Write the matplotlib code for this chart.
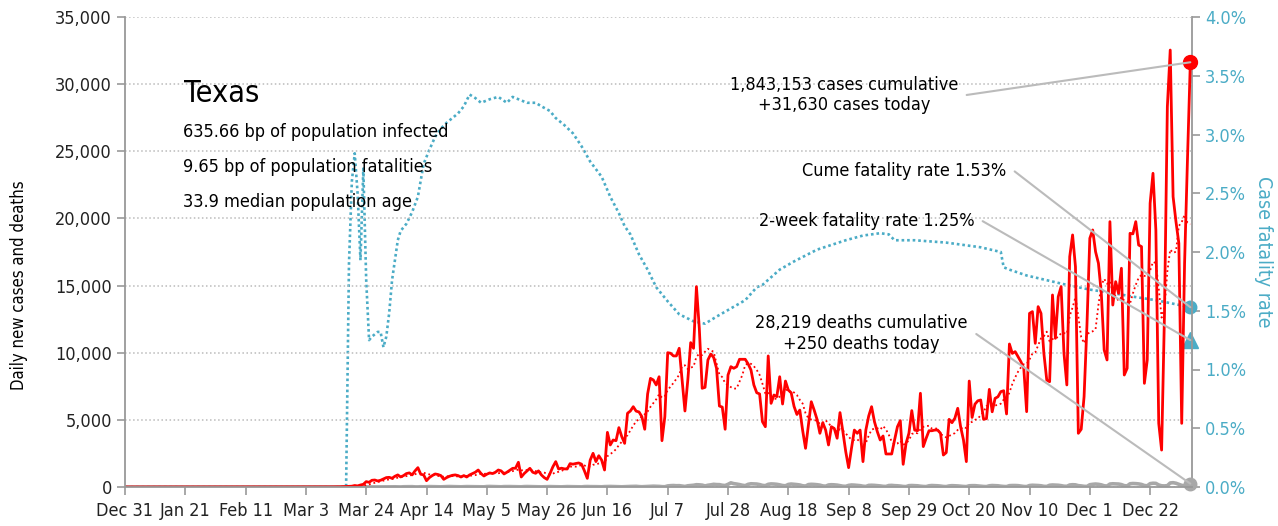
import pandas as pd
import matplotlib
matplotlib.use("Agg")
import matplotlib.pyplot as plt
import matplotlib.ticker as mticker
import matplotlib.dates as mdates

plt.rcParams['font.family'] = ['DejaVu Sans']
plt.rcParams['font.stretch'] = 'condensed'

# ---- data ----
axis_start = "2019-12-31"
first_day = "2020-03-04"

# daily new cases, Mar 4 2020 .. Jan 5 2021
cases_mar = [1, 0, 2, 3, 1, 5, 2, 3, 8, 10, 20, 15, 25, 30, 50, 60, 110, 80, 150, 200,
             400, 350, 500, 520, 450, 500, 600, 700]
cases_apr = [720, 650, 800, 900, 750, 850, 1000, 1050, 900, 1200,
             1440, 950, 900, 470, 700, 850, 970, 930, 850, 570,
             700, 800, 870, 900, 850, 745, 850, 745, 900, 1000]
cases_may = [1100, 1266, 1000, 820, 950, 1050, 1000, 1100, 1266, 1200,
             970, 1100, 1250, 1390, 1400, 1840, 745, 1000, 1200, 1390,
             1100, 1020, 1200, 900, 700, 570, 1000, 1500, 1890, 1340, 1400]
cases_jun = [1350, 1340, 1740, 1700, 1750, 1790, 1700, 1200, 645, 2000,
             2510, 1890, 2330, 2000, 1266, 4070, 3130, 3500, 3450, 4420,
             3750, 3250, 5490, 5660, 5980, 5650, 5590, 5240, 4300, 6930]
cases_jul = [8090, 7970, 7600, 8210, 3450, 5240, 10000, 9960, 9760, 9760,
             10330, 7970, 5660, 7970, 10750, 10330, 14920, 11820, 7350, 7420,
             9460, 9900, 9650, 8840, 6030, 5950, 4300, 8340, 8960, 8840, 8960]
cases_aug = [9510, 9510, 9510, 9170, 8710, 7600, 7020, 6930, 4860, 4490,
             9760, 6230, 6850, 6730, 8210, 6180, 7890, 7220, 7020, 6000,
             5400, 5730, 4200, 2880, 4600, 6350, 5730, 5040, 4000, 4790, 4240]
cases_sep = [3130, 4490, 4360, 3630, 5540, 4120, 2630, 1440, 2880, 4240,
             4000, 4240, 1890, 4240, 5290, 5980, 4860, 4120, 3500, 3800,
             2460, 2460, 2460, 3500, 4490, 4940, 1690, 3250, 4000, 5690]
cases_oct = [4240, 4190, 6980, 3010, 3630, 4190, 4190, 4240, 4240, 4000,
             2380, 2560, 5040, 4790, 5120, 5860, 4490, 3500, 1890, 7890,
             5180, 6170, 6420, 6480, 5040, 5090, 7270, 5600, 6600, 6720, 7100]
cases_nov = [7170, 5440, 10650, 9950, 10080, 9700, 9330, 8840, 5610, 12930,
             13060, 10700, 13430, 12930, 9950, 7970, 7840, 14300, 11070, 14170,
             14920, 9950, 7600, 17150, 18770, 16400, 4000, 4300, 6730, 12060]
cases_dec = [18520, 19140, 17520, 16660, 14420, 10200, 9460, 19760, 13550, 15290,
             14420, 16290, 8340, 8840, 18890, 18850, 19760, 18020, 17900, 7720,
             9460, 21130, 23360, 19140, 4740, 2750, 12930, 28320, 32540, 21620, 19760]
cases_jan = [18150, 4740, 16660, 24350, 31630]

# daily deaths, same dates
deaths_mar = [0] * 14 + [1, 2, 1, 1, 3, 2, 3, 5, 4, 6, 4, 5, 8, 10]
deaths_apr = [10, 12, 15, 9, 5, 18, 20, 22, 25, 10, 8, 20, 15, 25, 30, 28, 22, 14, 12, 25,
              30, 35, 30, 25, 18, 14, 25, 30, 28, 25]
deaths_may = [30, 25, 15, 12, 35, 40, 30, 28, 20, 15, 30, 35, 32, 28, 25, 18, 14, 30, 35, 30,
              28, 22, 16, 12, 20, 25, 30, 28, 20, 15, 12]
deaths_jun = [25, 30, 28, 25, 20, 15, 10, 30, 35, 28, 30, 25, 20, 15, 30, 35, 40, 35, 30, 20,
              15, 25, 30, 40, 45, 50, 30, 20, 30, 40]
deaths_jul = [50, 60, 55, 45, 25, 20, 80, 100, 110, 95, 100, 70, 40, 90, 110, 130, 170, 160, 140, 80,
              130, 160, 200, 180, 175, 130, 110, 200, 310, 250, 220]
deaths_aug = [180, 130, 100, 200, 240, 230, 220, 180, 120, 100, 200, 230, 220, 200, 160, 110, 90, 190, 220, 200,
              180, 150, 90, 70, 180, 200, 190, 170, 140, 80, 60]
deaths_sep = [150, 170, 160, 140, 100, 60, 50, 120, 150, 140, 120, 100, 60, 40, 120, 130, 120, 100, 80, 50,
              40, 110, 120, 100, 90, 70, 40, 30, 100, 110]
deaths_oct = [100, 90, 60, 40, 30, 90, 110, 100, 90, 70, 40, 30, 80, 100, 90, 80, 60, 40, 30, 90,
              100, 100, 80, 60, 40, 30, 90, 110, 100, 90, 60]
deaths_nov = [40, 30, 100, 110, 110, 100, 70, 40, 30, 110, 130, 120, 110, 90, 50, 40, 130, 150, 140, 130,
              100, 60, 50, 150, 170, 160, 100, 80, 50, 40]
deaths_dec = [170, 200, 220, 200, 160, 90, 70, 220, 240, 230, 220, 180, 100, 80, 240, 260, 250, 230, 190, 110,
              90, 250, 280, 270, 150, 90, 80, 100, 300, 320, 280]
deaths_jan = [200, 120, 100, 280, 250]

# case fatality rate (%)
cfr_dates = ["2019-12-31", "2020-03-16", "2020-03-17", "2020-03-18", "2020-03-19", "2020-03-20",
             "2020-03-21", "2020-03-22", "2020-03-23", "2020-03-24", "2020-03-25", "2020-03-26",
             "2020-03-27", "2020-03-28", "2020-03-29", "2020-03-30", "2020-03-31", "2020-04-01",
             "2020-04-02", "2020-04-03", "2020-04-04", "2020-04-05", "2020-04-07", "2020-04-09",
             "2020-04-11", "2020-04-13", "2020-04-15", "2020-04-17", "2020-04-19", "2020-04-21",
             "2020-04-23", "2020-04-25", "2020-04-27", "2020-04-29", "2020-05-01", "2020-05-03",
             "2020-05-06", "2020-05-09", "2020-05-12", "2020-05-14", "2020-05-16", "2020-05-19",
             "2020-05-22", "2020-05-24", "2020-05-27", "2020-05-29", "2020-06-01", "2020-06-04",
             "2020-06-07", "2020-06-10", "2020-06-14", "2020-06-17", "2020-06-20", "2020-06-22",
             "2020-06-24", "2020-06-27", "2020-06-30", "2020-07-03", "2020-07-07", "2020-07-11",
             "2020-07-16", "2020-07-20", "2020-07-24", "2020-07-29", "2020-08-03", "2020-08-07",
             "2020-08-09", "2020-08-15", "2020-08-20", "2020-08-24", "2020-08-28", "2020-09-02",
             "2020-09-07", "2020-09-13", "2020-09-19", "2020-09-22", "2020-09-24", "2020-10-01",
             "2020-10-12", "2020-10-24", "2020-10-31", "2020-11-01", "2020-11-03", "2020-11-09",
             "2020-11-16", "2020-11-23", "2020-12-01", "2020-12-09", "2020-12-16", "2020-12-24",
             "2021-01-01", "2021-01-05"]
cfr_values = [0, 0, 0, 1.90, 2.60, 2.84,
              2.50, 1.93, 2.71, 1.76, 1.25, 1.28,
              1.30, 1.32, 1.32, 1.19, 1.28, 1.48,
              1.76, 1.93, 2.10, 2.18, 2.24, 2.34,
              2.47, 2.75, 2.87, 2.98, 3.05, 3.10,
              3.14, 3.18, 3.24, 3.34, 3.31, 3.27,
              3.30, 3.32, 3.27, 3.32, 3.30, 3.27,
              3.27, 3.24, 3.20, 3.14, 3.08, 3.01,
              2.90, 2.77, 2.64, 2.47, 2.33, 2.22,
              2.15, 1.98, 1.85, 1.70, 1.58, 1.47,
              1.41, 1.39, 1.45, 1.52, 1.59, 1.70,
              1.72, 1.85, 1.92, 1.97, 2.02, 2.06,
              2.10, 2.14, 2.16, 2.15, 2.10, 2.10,
              2.08, 2.04, 2.00, 1.87, 1.85, 1.80,
              1.76, 1.72, 1.68, 1.65, 1.62, 1.59,
              1.55, 1.53]
two_week_cfr = 1.25

state = "Texas"
facts = ["635.66 bp of population infected",
         "9.65 bp of population fatalities",
         "33.9 median population age"]
cases_note = "1,843,153 cases cumulative\n+31,630 cases today"
deaths_note = "28,219 deaths cumulative\n+250 deaths today"
cume_note = "Cume fatality rate 1.53%"
week_note = "2-week fatality rate 1.25%"

# ---- build series ----
daily_cases = (cases_mar + cases_apr + cases_may + cases_jun + cases_jul + cases_aug
               + cases_sep + cases_oct + cases_nov + cases_dec + cases_jan)
daily_deaths = (deaths_mar + deaths_apr + deaths_may + deaths_jun + deaths_jul + deaths_aug
                + deaths_sep + deaths_oct + deaths_nov + deaths_dec + deaths_jan)
days = pd.date_range(first_day, periods=len(daily_cases), freq="D")
all_days = pd.date_range(axis_start, days[-1], freq="D")
cases = pd.Series(daily_cases, index=days).reindex(all_days, fill_value=0)
deaths = pd.Series(daily_deaths, index=days).reindex(all_days, fill_value=0)
cases_avg = cases.rolling(7, min_periods=1).mean()
cfr = pd.Series(cfr_values, index=pd.to_datetime(cfr_dates))
last = all_days[-1]
last_x = mdates.date2num(last)

RED = "#ff0000"
BLUE = "#4bacc6"
GREY = "#a8a8a8"
AXC = "#999999"
FS = 13

fig = plt.figure(figsize=(12.78, 5.26), dpi=100)
ax = fig.add_axes([125 / 1278, 39 / 526, 1067 / 1278, 470 / 526])
ax2 = ax.twinx()

ax2.plot(cfr.index, cfr.values, color=BLUE, lw=1.9, ls=(0, (1, 1.1)))
ax2.plot([last], [cfr.values[-1]], "o", color=BLUE, ms=9, clip_on=False)
ax2.plot([last], [two_week_cfr], "^", color=BLUE, ms=11, clip_on=False)

ax.plot(deaths.index, deaths.values, color=GREY, lw=2.6)
ax.plot(cases.index, cases.values, color=RED, lw=2)
ax.plot(cases_avg.index, cases_avg.values, color=RED, lw=1.3, ls=(0, (1, 1.6)))
ax.plot([last], [cases.values[-1]], "o", color=RED, ms=10, clip_on=False)
ax.plot([last], [deaths.values[-1]], "o", color=GREY, ms=9, clip_on=False)

ax.set_zorder(ax2.get_zorder() + 1)
ax.patch.set_visible(False)

ax.set_xlim(pd.Timestamp(axis_start), last + pd.Timedelta(hours=14))
ax.set_ylim(0, 35000)
ax2.set_ylim(0, 4)

ticks = pd.date_range(axis_start, periods=18, freq="21D")
ax.set_xticks(ticks)
ax.set_xticklabels([f"{d:%b} {d.day}" for d in ticks])
ax.yaxis.set_major_locator(mticker.MultipleLocator(5000))
ax.yaxis.set_major_formatter(mticker.StrMethodFormatter("{x:,.0f}"))
ax2.yaxis.set_major_locator(mticker.MultipleLocator(0.5))
ax2.yaxis.set_major_formatter(mticker.PercentFormatter(xmax=100, decimals=1))

ax.yaxis.grid(True, ls=":", color="#bbbbbb", lw=1.1)
ax.set_axisbelow(True)

for a in (ax, ax2):
    a.spines["top"].set_visible(False)
    for s in a.spines.values():
        s.set_color(AXC)
        s.set_linewidth(1.3)
ax.spines["right"].set_visible(False)
ax2.spines["left"].set_visible(False)
ax2.spines["bottom"].set_visible(False)

ax.tick_params(axis="both", labelsize=FS, colors=AXC, labelcolor="#222222", length=6, width=1.2)
ax.tick_params(axis="x", pad=5)
ax2.tick_params(axis="y", labelsize=FS, colors=AXC, labelcolor=BLUE, length=6, width=1.2)

ax.set_ylabel("Daily new cases and deaths", fontsize=12)
ax.yaxis.set_label_coords(-0.091, 0.43)
ax2.set_ylabel("Case fatality rate", fontsize=14, color=BLUE, rotation=270, va="bottom")
ax2.yaxis.set_label_coords(1.058, 0.5)

# title block
ax.text(0.0555, 0.838, state, transform=ax.transAxes, fontsize=22, va="center", ha="left")
for i, line in enumerate(facts):
    ax.text(0.0545, 0.755 - i * 0.0745, line, transform=ax.transAxes, fontsize=FS, va="center", ha="left")

# call-outs
line_style = dict(arrowstyle="-", color="#bbbbbb", lw=1.5, relpos=(1, 0.5), shrinkA=4, shrinkB=0,
                  connectionstyle="arc,angleA=0,armA=8,angleB=0,armB=0,rad=0")


def note(text, xy, pos, coords):
    ax.annotate(text, xy=xy, xycoords=coords, xytext=pos, textcoords="axes fraction",
                ha="right", va="center", multialignment="center", fontsize=FS,
                arrowprops=line_style, zorder=5)


note(cases_note, (last_x, cases.values[-1]), (0.781, 0.834), ax.transData)
note(cume_note, (last_x, cfr.values[-1]), (0.826, 0.672), ax2.transData)
note(week_note, (last_x, two_week_cfr), (0.796, 0.566), ax2.transData)
note(deaths_note, (last_x, deaths.values[-1]), (0.790, 0.326), ax.transData)

fig.savefig("out.png", dpi=100)
